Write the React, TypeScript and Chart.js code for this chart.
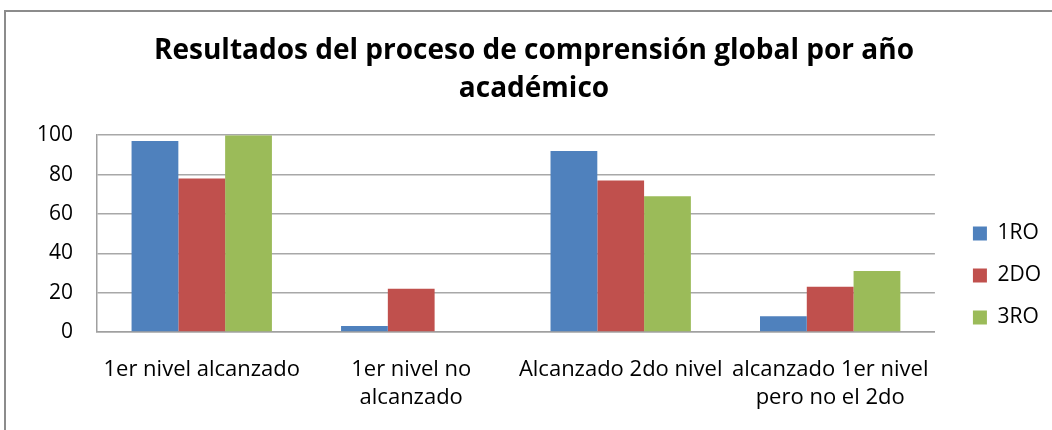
import React, { useEffect, useRef } from "react";
import { Chart, registerables } from "chart.js";

Chart.register(...registerables);

const categories: string[][] = [
  ["1er nivel alcanzado"],
  ["1er nivel no", "alcanzado"],
  ["Alcanzado 2do nivel"],
  ["alcanzado 1er nivel", "pero no el 2do"],
];
const seriesNames = ["1RO", "2DO", "3RO"];
const values1RO = [97, 3, 92, 8];
const values2DO = [78, 22, 77, 23];
const values3RO = [100, 0, 69, 31];
const yTicks = [0, 20, 40, 60, 80, 100];
const titleLines = ["Resultados del proceso de comprensión global por año", "académico"];

const colors = ["#4F81BD", "#C0504D", "#9BBB59"];
const FONT = "'Open Sans', Lato, sans-serif";
const PAD_LEFT = 34;
const PAD_RIGHT = 18;
const LEGEND_DX = 17;
const LEGEND_DY = 170;

const legendShift = {
  id: "legendShift",
  afterLayout(chart: any) {
    const l = chart.legend;
    if (!l) return;
    l.left += LEGEND_DX;
    l.right += LEGEND_DX;
    l.top += LEGEND_DY;
    l.bottom += LEGEND_DY;
  },
};

export default function App() {
  const ref = useRef<HTMLCanvasElement | null>(null);
  useEffect(() => {
    if (!ref.current) return;
    const chart = new Chart(ref.current, {
      type: "bar",
      data: {
        labels: categories,
        datasets: [values1RO, values2DO, values3RO].map((d, i) => ({
          label: seriesNames[i],
          data: d,
          backgroundColor: colors[i],
          borderWidth: 0,
          categoryPercentage: 0.67,
          barPercentage: 1.0,
        })),
      },
      plugins: [legendShift],
      options: {
        responsive: false,
        animation: false,
        layout: { padding: { left: PAD_LEFT, right: PAD_RIGHT, top: 32, bottom: 10 } },
        plugins: {
          title: {
            display: true,
            text: titleLines,
            color: "#000",
            font: { family: FONT, size: 28, weight: "bold", lineHeight: 1.36 },
            padding: { top: 0, bottom: 27 },
          },
          legend: {
            display: true,
            position: "right",
            align: "start",
            labels: {
              boxWidth: 14,
              boxHeight: 14,
              padding: 21,
              color: "#000",
              font: { family: FONT, size: 21 },
            },
          },
          tooltip: { enabled: false },
        },
        scales: {
          x: {
            grid: { display: false, drawTicks: false },
            border: { display: true, color: "#a0a0a0", width: 1.5 },
            ticks: {
              color: "#000",
              font: { family: FONT, size: 22, lineHeight: 1.25 },
              maxRotation: 0,
              autoSkip: false,
              padding: 24,
            },
            afterFit: (scale: any) => {
              scale.height = 88;
            },
          },
          y: {
            min: 0,
            max: 100,
            afterBuildTicks: (scale: any) => {
              scale.ticks = yTicks.map((v) => ({ value: v }));
            },
            grid: { color: "#a8a8a8", lineWidth: 1.5, drawTicks: false },
            border: { display: true, color: "#a0a0a0", width: 1.5 },
            ticks: {
              color: "#000",
              font: { family: FONT, size: 21 },
              padding: 24,
            },
            afterFit: (scale: any) => {
              scale.width = 97 - PAD_LEFT;
            },
          },
        },
      },
    });
    return () => chart.destroy();
  }, []);
  return (
    <div style={{ position: "absolute", left: 0, top: 0, width: 1052, height: 430, background: "#fff", overflow: "hidden" }}>
      <div
        style={{
          position: "absolute",
          left: 4,
          top: 10,
          width: 1200,
          height: 600,
          borderTop: "2px solid #8c8c8c",
          borderLeft: "2px solid #8c8c8c",
        }}
      />
      <canvas ref={ref} width={1052} height={430} style={{ position: "absolute", left: 0, top: 0 }} />
    </div>
  );
}
